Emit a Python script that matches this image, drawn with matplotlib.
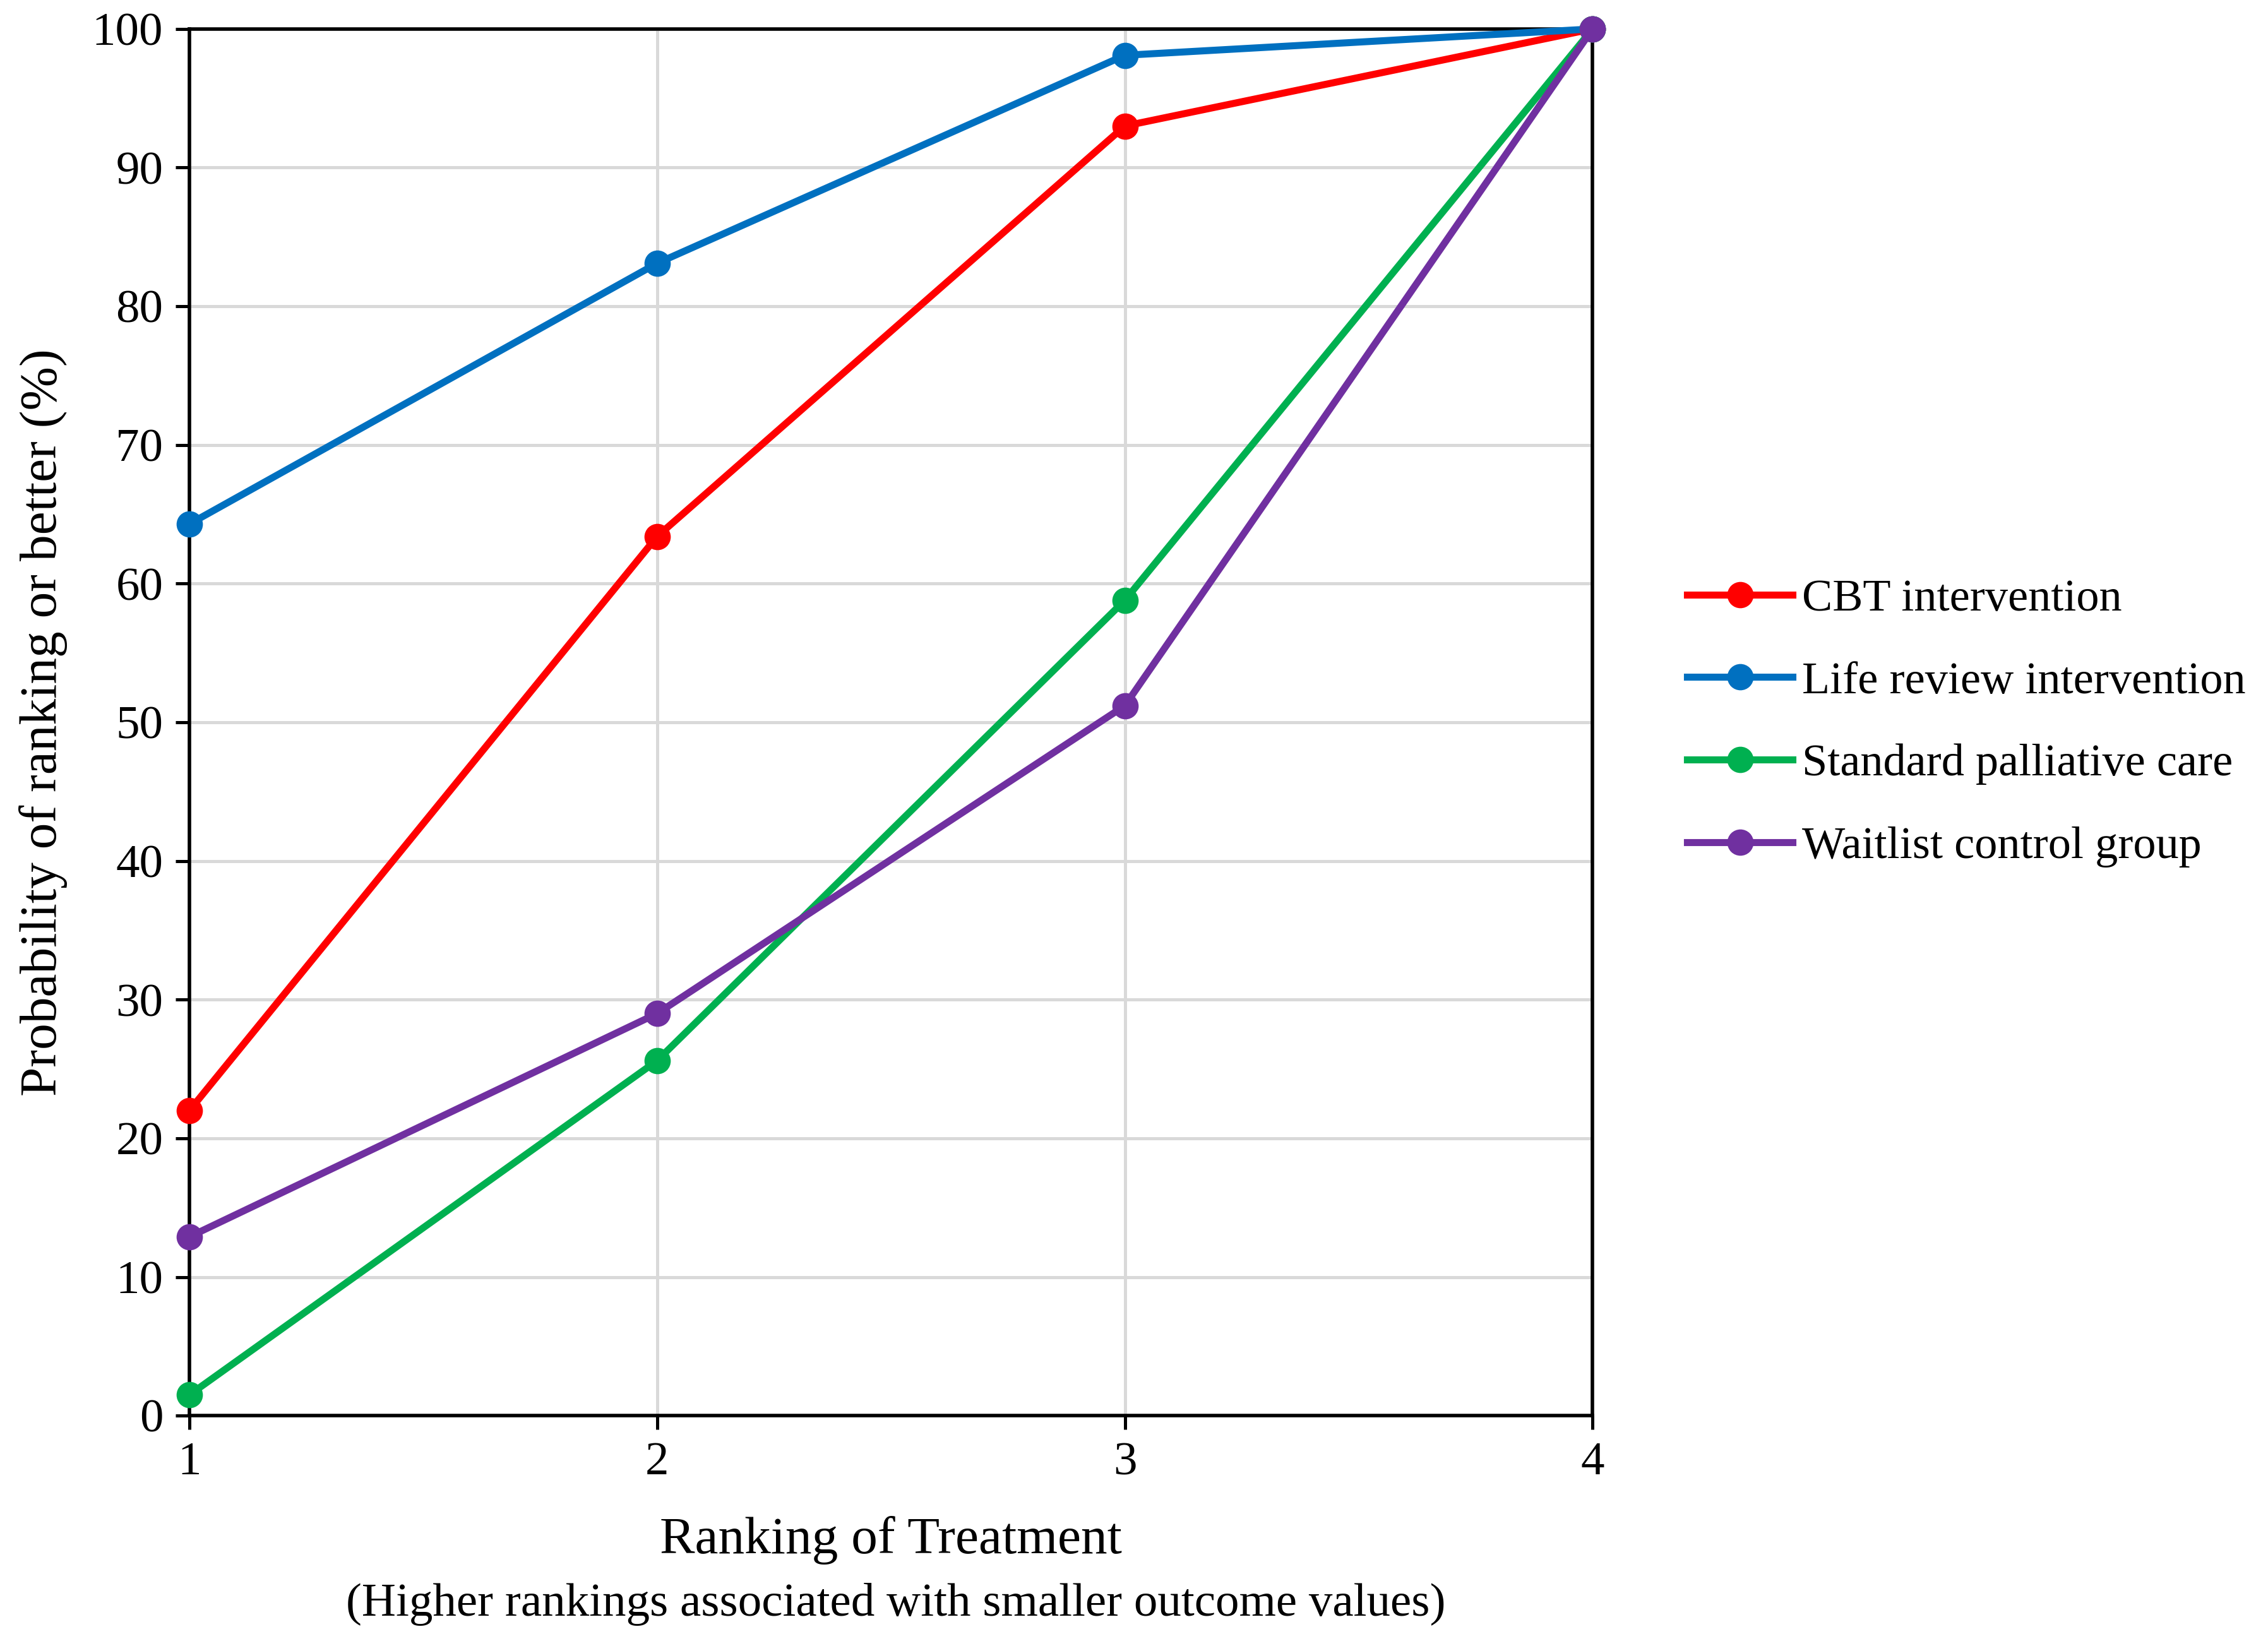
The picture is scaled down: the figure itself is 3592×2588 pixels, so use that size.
import numpy as np
import matplotlib
matplotlib.use("Agg")
import matplotlib.pyplot as plt

FS = 27
LW = 4.0
matplotlib.rcParams['font.family'] = ['Liberation Serif', 'DejaVu Serif']

# data
ranks = [1, 2, 3, 4]
cbt = [22.0, 63.4, 93.0, 100.0]
life_review = [64.3, 83.1, 98.1, 100.0]
standard_care = [1.5, 25.6, 58.8, 100.0]
waitlist = [12.9, 29.0, 51.2, 100.0]

series = [cbt, life_review, standard_care, waitlist]
names = ["CBT intervention", "Life review intervention",
         "Standard palliative care", "Waitlist control group"]
colors = ["#FF0000", "#0070C0", "#00B050", "#7030A0"]

fig = plt.figure(figsize=(17.96, 12.94), dpi=200)
ax = fig.add_axes([0.0835, 0.1336, 0.6187, 0.8487])

for vals, name, c in zip(series, names, colors):
    ax.plot(ranks, vals, '-o', color=c, linewidth=LW, markersize=14,
            label=name, zorder=3, clip_on=False)

ax.set_xlim(1, 4)
ax.set_ylim(0, 100)
ax.set_xticks(ranks)
ax.set_yticks(np.arange(0, 101, 10))
ax.grid(True, color="#D9D9D9", linewidth=1.8)
ax.set_axisbelow(True)
for s in ax.spines.values():
    s.set_linewidth(2.0)
ax.tick_params(labelsize=FS, length=8, width=1.8, direction='out', pad=7)

ax.set_ylabel("Probability of ranking or better (%)", fontsize=30, labelpad=14)
ax.set_xlabel("Ranking of Treatment", fontsize=30, labelpad=18)
fig.text(0.395, 0.005, "(Higher rankings associated with smaller outcome values)",
         fontsize=27, ha='center', va='bottom')

ax.legend(loc='center left', bbox_to_anchor=(0.744, 0.5575), bbox_transform=fig.transFigure,
          frameon=False, fontsize=26, handlelength=2.3, handletextpad=0.22,
          labelspacing=0.9, borderaxespad=0, borderpad=0)

plt.savefig("out.png", dpi=200)
